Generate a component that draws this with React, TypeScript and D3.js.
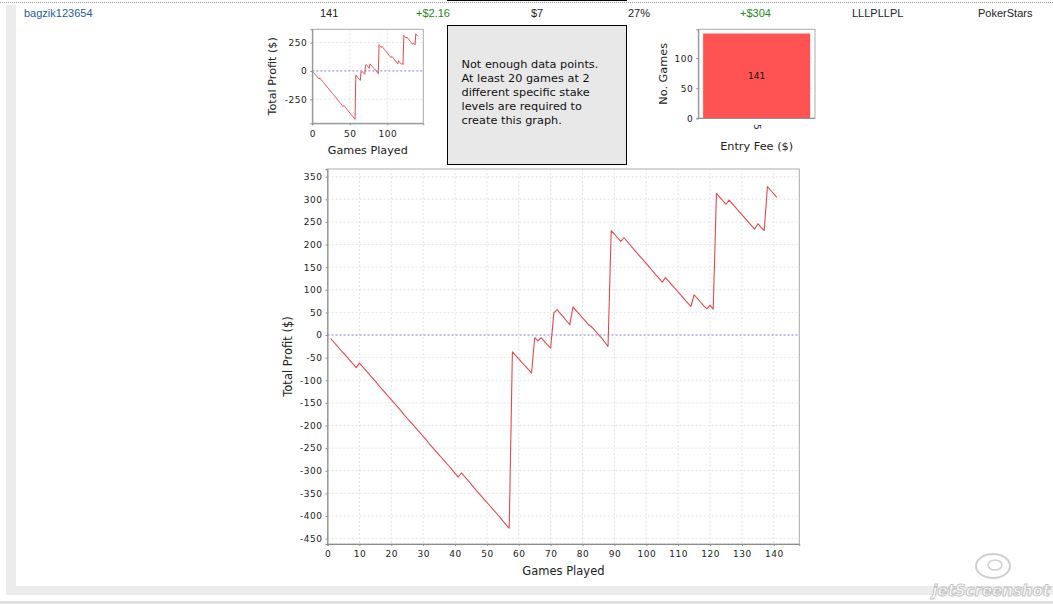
import React, { useEffect, useRef } from 'react';
import * as d3 from 'd3';

// cumulative profit after each game (games 1..141)
const totalProfit = [
  -8, -16, -24, -32, -40, -48, -56, -64, -72, -62,
  -70, -78, -86, -94, -102, -111, -119, -127, -135, -143,
  -151, -159, -167, -176, -184, -192, -200, -208, -216, -224,
  -232, -241, -249, -257, -265, -273, -281, -289, -297, -306,
  -314, -305, -313, -321, -329, -338, -346, -354, -362, -370,
  -378, -386, -394, -402, -411, -419, -427, -37, -45, -53,
  -61, -68, -76, -84, -6, -13, -6, -14, -22, -29,
  49, 56, 48, 40, 31, 23, 62, 54, 46, 38,
  30, 22, 17, 9, 1, -7, -16, -25, 231, 223,
  215, 207, 215, 207, 199, 190, 182, 174, 166, 158,
  150, 141, 133, 125, 117, 127, 119, 111, 103, 95,
  87, 79, 71, 63, 89, 81, 73, 65, 58, 66,
  57, 313, 305, 297, 289, 298, 290, 282, 274, 266,
  258, 250, 242, 234, 246, 238, 231, 328, 320, 312,
  304,
];

const profitTicks = [-450, -400, -350, -300, -250, -200, -150, -100, -50, 0, 50, 100, 150, 200, 250, 300, 350];
const gameTicks = [0, 10, 20, 30, 40, 50, 60, 70, 80, 90, 100, 110, 120, 130, 140];
const smallProfitTicks = [-250, 0, 250];
const smallGameTicks = [0, 50, 100];

const feeCategories = ['5'];
const feeCounts = [141];
const countTicks = [0, 50, 100];

const headerCells = ['bagzik123654', '141', '+$2.16', '$7', '27%', '+$304', 'LLLPLLPL', 'PokerStars'];
const messageLines = [
  'Not enough data points.',
  'At least 20 games at 2',
  'different specific stake',
  'levels are required to',
  'create this graph.',
];

const FONT = 'DejaVu Sans, Verdana, sans-serif';
const GRID = '#d9d9d9';
const LINE = '#e8474c';
const ZERO = '#5c5cd8';

type Box = { left: number; right: number; top: number; bottom: number };

const App: React.FC = () => {
  const ref = useRef<SVGSVGElement | null>(null);

  useEffect(() => {
    document.body.style.margin = '0';
    const svg = d3.select(ref.current);
    svg.selectAll('*').remove();

    // page frame
    svg.append('rect').attr('width', 1053).attr('height', 604).attr('fill', '#fff');
    svg.append('line').attr('x1', 0).attr('x2', 1053).attr('y1', 2.5).attr('y2', 2.5)
      .attr('stroke', '#999').attr('stroke-dasharray', '1,1');
    svg.append('rect').attr('x', 447).attr('y', -1).attr('width', 180).attr('height', 2)
      .attr('fill', '#000');
    svg.append('rect').attr('x', 6).attr('y', 5).attr('width', 10).attr('height', 590).attr('fill', '#ececec');
    svg.append('rect').attr('x', 6).attr('y', 586).attr('width', 1047).attr('height', 9).attr('fill', '#ececec');
    svg.append('rect').attr('x', 0).attr('y', 601).attr('width', 1053).attr('height', 3).attr('fill', '#e2e2e2');

    // header row
    const headerX = [24, 320, 416, 531, 628, 740, 852, 978];
    const headerColor = ['#1d5d9b', '#222', '#1c8a1c', '#222', '#222', '#1c8a1c', '#222', '#222'];
    headerCells.forEach((t, i) => {
      svg.append('text').attr('x', headerX[i]).attr('y', 17)
        .attr('font-family', 'Liberation Sans, Arial, sans-serif').attr('font-size', 11)
        .attr('fill', headerColor[i]).text(t);
    });

    const profitChart = (box: Box, yTicks: number[], xTicks: number[], opts: { tick: number; label: number; yLabelX: number; xLabelY: number; xTickY: number; lw: number }) => {
      const x = d3.scaleLinear().domain([0, 148]).range([box.left, box.right]);
      const y = d3.scaleLinear().domain([-462, 367]).range([box.bottom, box.top]);
      const g = svg.append('g');
      g.append('rect').attr('x', box.left).attr('y', box.top)
        .attr('width', box.right - box.left).attr('height', box.bottom - box.top)
        .attr('fill', '#fff').attr('stroke', '#ababab');

      xTicks.filter(d => d > 0).forEach(d => {
        g.append('line').attr('x1', x(d)).attr('x2', x(d)).attr('y1', box.top).attr('y2', box.bottom)
          .attr('stroke', GRID).attr('stroke-width', 0.7).attr('stroke-dasharray', '2,2');
      });
      yTicks.filter(d => d !== 0).forEach(d => {
        g.append('line').attr('x1', box.left).attr('x2', box.right).attr('y1', y(d)).attr('y2', y(d))
          .attr('stroke', GRID).attr('stroke-width', 0.7).attr('stroke-dasharray', '2,2');
      });
      g.append('line').attr('x1', box.left).attr('x2', box.right).attr('y1', y(0)).attr('y2', y(0))
        .attr('stroke', ZERO).attr('stroke-width', 0.8).attr('stroke-dasharray', '2,2');

      const line = d3.line<number>().x((_, i) => x(i + 1)).y(d => y(d));
      g.append('path').datum(totalProfit).attr('d', line).attr('fill', 'none')
        .attr('stroke', LINE).attr('stroke-width', opts.lw).attr('stroke-linejoin', 'round');

      const yAxis = g.append('g').attr('transform', `translate(${box.left},0)`)
        .call(d3.axisLeft(y).tickValues(yTicks).tickSize(2).tickPadding(3).tickFormat(d3.format('d')));
      const xAxis = g.append('g').attr('transform', `translate(0,${box.bottom})`)
        .call(d3.axisBottom(x).tickValues(xTicks).tickSize(2).tickPadding(opts.xTickY).tickFormat(d3.format('d')));
      [yAxis, xAxis].forEach(a => {
        a.select('.domain').attr('stroke', '#8c8c8c');
        a.selectAll('.tick line').attr('stroke', '#8c8c8c');
        a.selectAll('text').attr('font-family', FONT).attr('font-size', opts.tick)
          .attr('fill', '#222').attr('letter-spacing', 0.5);
      });
      yAxis.selectAll('text').text((d: any) => String(d).replace('\u2212', '-'));

      g.append('text').attr('transform', `translate(${opts.yLabelX},${(box.top + box.bottom) / 2}) rotate(-90)`)
        .attr('text-anchor', 'middle').attr('font-family', FONT).attr('font-size', opts.label)
        .attr('fill', '#222').text('Total Profit ($)');
      g.append('text').attr('x', (box.left + box.right) / 2).attr('y', opts.xLabelY)
        .attr('text-anchor', 'middle').attr('font-family', FONT).attr('font-size', opts.label)
        .attr('fill', '#222').text('Games Played');
    };

    // small profit chart
    profitChart({ left: 312.3, right: 423.3, top: 29.3, bottom: 123.3 }, smallProfitTicks, smallGameTicks,
      { tick: 9, label: 11.2, yLabelX: 276, xLabelY: 153.5, xTickY: 5, lw: 1 });

    // main profit chart
    profitChart({ left: 327.5, right: 799.3, top: 169, bottom: 544 }, profitTicks, gameTicks,
      { tick: 9, label: 11.5, yLabelX: 292, xLabelY: 575, xTickY: 5, lw: 1.1 });

    // message box
    svg.append('rect').attr('x', 447.5).attr('y', 25.5).attr('width', 179).attr('height', 139)
      .attr('fill', '#e8e8e8').attr('stroke', '#000');
    messageLines.forEach((t, i) => {
      svg.append('text').attr('x', 461.5).attr('y', 67.5 + i * 14.2)
        .attr('font-family', FONT).attr('font-size', 11.3).attr('fill', '#111').text(t);
    });

    // entry fee bar chart
    const bb: Box = { left: 698.3, right: 815, top: 29.3, bottom: 118.3 };
    const bx = d3.scaleBand<string>().domain(feeCategories).range([bb.left, bb.right]).paddingOuter(0.045).paddingInner(0);
    const by = d3.scaleLinear().domain([0, 148]).range([bb.bottom, bb.top]);
    const bg = svg.append('g');
    bg.append('rect').attr('x', bb.left).attr('y', bb.top).attr('width', bb.right - bb.left)
      .attr('height', bb.bottom - bb.top).attr('fill', '#fff').attr('stroke', '#ababab');
    countTicks.filter(d => d > 0).forEach(d => {
      bg.append('line').attr('x1', bb.left).attr('x2', bb.right).attr('y1', by(d)).attr('y2', by(d))
        .attr('stroke', GRID).attr('stroke-width', 0.7).attr('stroke-dasharray', '2,2');
    });
    bg.selectAll('.bar').data(feeCounts).enter().append('rect')
      .attr('x', (_, i) => bx(feeCategories[i]) as number)
      .attr('y', d => by(d))
      .attr('width', bx.bandwidth())
      .attr('height', d => bb.bottom - by(d))
      .attr('fill', '#ff5353');
    bg.selectAll('.barlabel').data(feeCounts).enter().append('text')
      .attr('x', (_, i) => (bx(feeCategories[i]) as number) + bx.bandwidth() / 2)
      .attr('y', d => by(d / 2) + 3.5)
      .attr('text-anchor', 'middle').attr('font-family', FONT).attr('font-size', 9).attr('fill', '#111')
      .text(d => String(d));
    const bAxis = bg.append('g').attr('transform', `translate(${bb.left},0)`)
      .call(d3.axisLeft(by).tickValues(countTicks).tickSize(2).tickPadding(3));
    bAxis.select('.domain').attr('stroke', '#8c8c8c');
    bAxis.selectAll('.tick line').attr('stroke', '#8c8c8c');
    bAxis.selectAll('text').attr('font-family', FONT).attr('font-size', 9).attr('fill', '#222').attr('letter-spacing', 0.5);
    bg.append('line').attr('x1', bb.left).attr('x2', bb.right).attr('y1', bb.bottom).attr('y2', bb.bottom)
      .attr('stroke', '#8c8c8c');
    feeCategories.forEach(c => {
      const cx = (bx(c) as number) + bx.bandwidth() / 2;
      bg.append('text').attr('transform', `translate(${cx - 3},${124}) rotate(90)`)
        .attr('font-family', FONT).attr('font-size', 9).attr('fill', '#222').text(c);
    });
    bg.append('text').attr('x', (bb.left + bb.right) / 2).attr('y', 149.5).attr('text-anchor', 'middle')
      .attr('font-family', FONT).attr('font-size', 11.3).attr('fill', '#222').text('Entry Fee ($)');
    bg.append('text').attr('transform', `translate(667,${(bb.top + bb.bottom) / 2}) rotate(-90)`)
      .attr('text-anchor', 'middle').attr('font-family', FONT).attr('font-size', 11.3).attr('fill', '#222')
      .text('No. Games');

    // watermark
    const wm = svg.append('g').attr('opacity', 0.7);
    wm.append('ellipse').attr('cx', 993).attr('cy', 566).attr('rx', 17).attr('ry', 12)
      .attr('fill', 'none').attr('stroke', '#bbb').attr('stroke-width', 2);
    wm.append('ellipse').attr('cx', 995).attr('cy', 565).attr('rx', 7).attr('ry', 5)
      .attr('fill', 'none').attr('stroke', '#bbb').attr('stroke-width', 1.5);
    wm.append('text').attr('x', 1050).attr('y', 596).attr('text-anchor', 'end')
      .attr('font-family', FONT).attr('font-size', 15).attr('font-style', 'italic').attr('font-weight', 'bold')
      .attr('fill', '#fff').attr('stroke', '#aaa').attr('stroke-width', 0.8).text('jetScreenshot');
  }, []);

  return (
    <svg ref={ref} width={1053} height={604} style={{ position: 'absolute', left: 0, top: 0, display: 'block' }} />
  );
};

export default App;
